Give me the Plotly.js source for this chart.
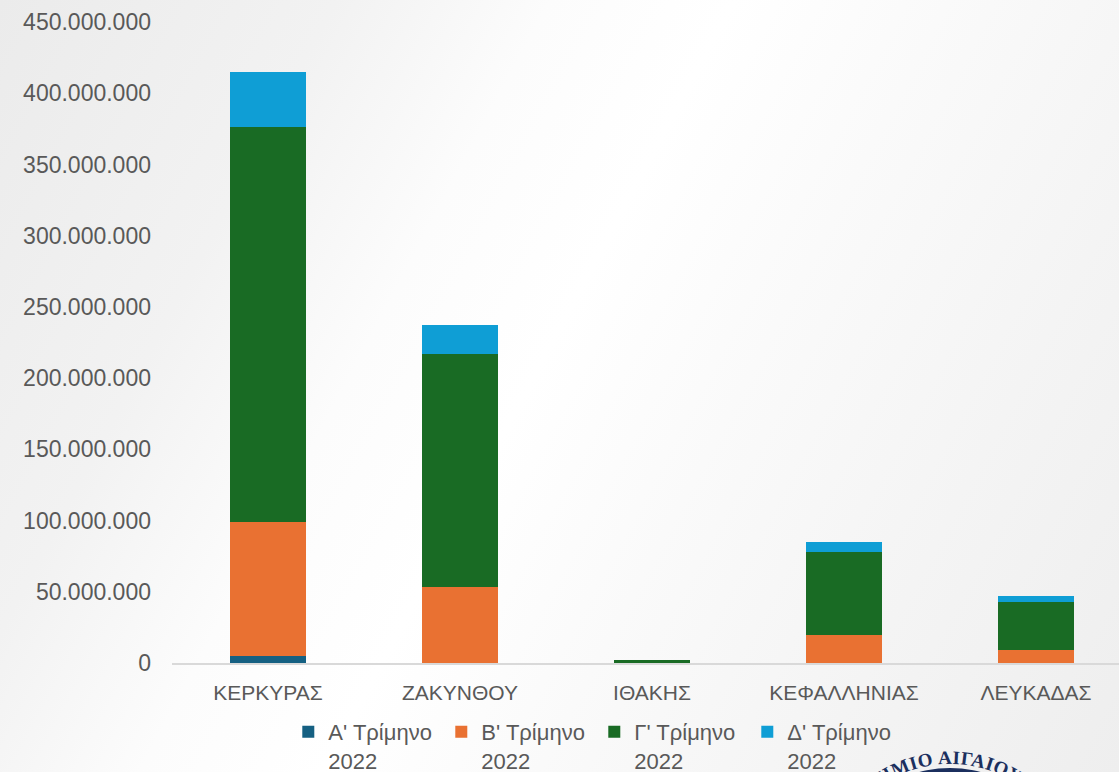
<!DOCTYPE html>
<html>
<head>
<meta charset="utf-8">
<script src="https://cdn.plot.ly/plotly-3.0.1.min.js"></script>
<style>
  html, body { margin: 0; padding: 0; }
  body {
    width: 1119px; height: 772px; overflow: hidden;
    background: linear-gradient(118deg, #ebebeb 0%, #f2f2f2 22%, #fcfcfc 36%, #ffffff 48%, #fafafa 62%, #f4f4f4 80%, #eeeeee 100%);
  }
  #chart { width: 1119px; height: 772px; }
</style>
</head>
<body>
<div id="chart"></div>
<script>
const categories = ["ΚΕΡΚΥΡΑΣ", "ΖΑΚΥΝΘΟΥ", "ΙΘΑΚΗΣ", "ΚΕΦΑΛΛΗΝΙΑΣ", "ΛΕΥΚΑΔΑΣ"];
const seriesNames = ["Α' Τρίμηνο<br>2022", "Β' Τρίμηνο<br>2022", "Γ' Τρίμηνο<br>2022", "Δ' Τρίμηνο<br>2022"];
const q1 = [5000000, 100000, 50000, 100000, 100000];
const q2 = [93800000, 53200000, 300000, 19500000, 8900000];
const q3 = [277500000, 163700000, 2000000, 58300000, 34000000];
const q4 = [38300000, 20400000, 100000, 7100000, 3800000];
const colors = ["#156082", "#E97132", "#196B24", "#0F9ED5"];

const seriesValues = [q1, q2, q3, q4];
const traces = seriesValues.map((vals, i) => ({
  type: "bar",
  name: seriesNames[i],
  x: categories,
  y: vals,
  marker: { color: colors[i], line: { width: 0 } },
  hoverinfo: "x+y+name"
}));

const logoSvg = `<svg xmlns="http://www.w3.org/2000/svg" width="300" height="300" viewBox="0 0 300 300">
<defs><path id="arc" d="M 150 273 a 123 123 0 1 1 0 -246 a 123 123 0 1 1 0 246"/></defs>
<circle cx="150" cy="150" r="119" fill="#1B2F5E"/>
<text font-family="Liberation Serif, DejaVu Serif, serif" font-size="19" font-weight="bold" fill="#1B2F5E" letter-spacing="0.5" text-anchor="start">
<textPath href="#arc" startOffset="26.8%">ΠΑΝΕΠΙΣΤΗΜΙΟ ΑΙΓΑΙΟΥ</textPath></text>
</svg>`;
const logoUri = "data:image/svg+xml;charset=utf-8," + encodeURIComponent(logoSvg);

const layout = {
  width: 1119,
  height: 772,
  margin: { l: 172, r: 0, t: 22, b: 109, pad: 0 },
  paper_bgcolor: "rgba(0,0,0,0)",
  plot_bgcolor: "rgba(0,0,0,0)",
  barmode: "stack",
  bargap: 0.6,
  separators: ",.",
  font: { family: "Liberation Sans, Arial, sans-serif", size: 22, color: "#595959" },
  xaxis: {
    type: "category",
    range: [-0.5, 4.432],
    showgrid: false,
    zeroline: false,
    showline: true,
    linecolor: "#d9d9d9",
    linewidth: 2,
    ticks: "",
    tickfont: { size: 21, color: "#595959" },
    ticklabelstandoff: 10
  },
  yaxis: {
    range: [0, 450000000],
    dtick: 50000000,
    tickformat: ",d",
    showgrid: false,
    zeroline: false,
    showline: false,
    ticks: "",
    tickfont: { size: 23, color: "#595959" },
    ticklabelstandoff: 20
  },
  showlegend: true,
  legend: {
    orientation: "h",
    x: 0.1228,
    xanchor: "left",
    y: 0.079,
    yref: "container",
    yanchor: "top",
    valign: "top",
    entrywidth: 108,
    traceorder: "normal",
    font: { size: 22, color: "#595959" },
    bgcolor: "rgba(0,0,0,0)"
  },
  images: [{
    source: logoUri,
    xref: "paper", yref: "paper",
    x: (800 - 172) / 947, y: (663 - 737) / 641,
    sizex: 300 / 947, sizey: 300 / 641,
    xanchor: "left", yanchor: "top",
    sizing: "stretch",
    layer: "above"
  }]
};

Plotly.newPlot("chart", traces, layout, { displayModeBar: false, staticPlot: true });
</script>
</body>
</html>
